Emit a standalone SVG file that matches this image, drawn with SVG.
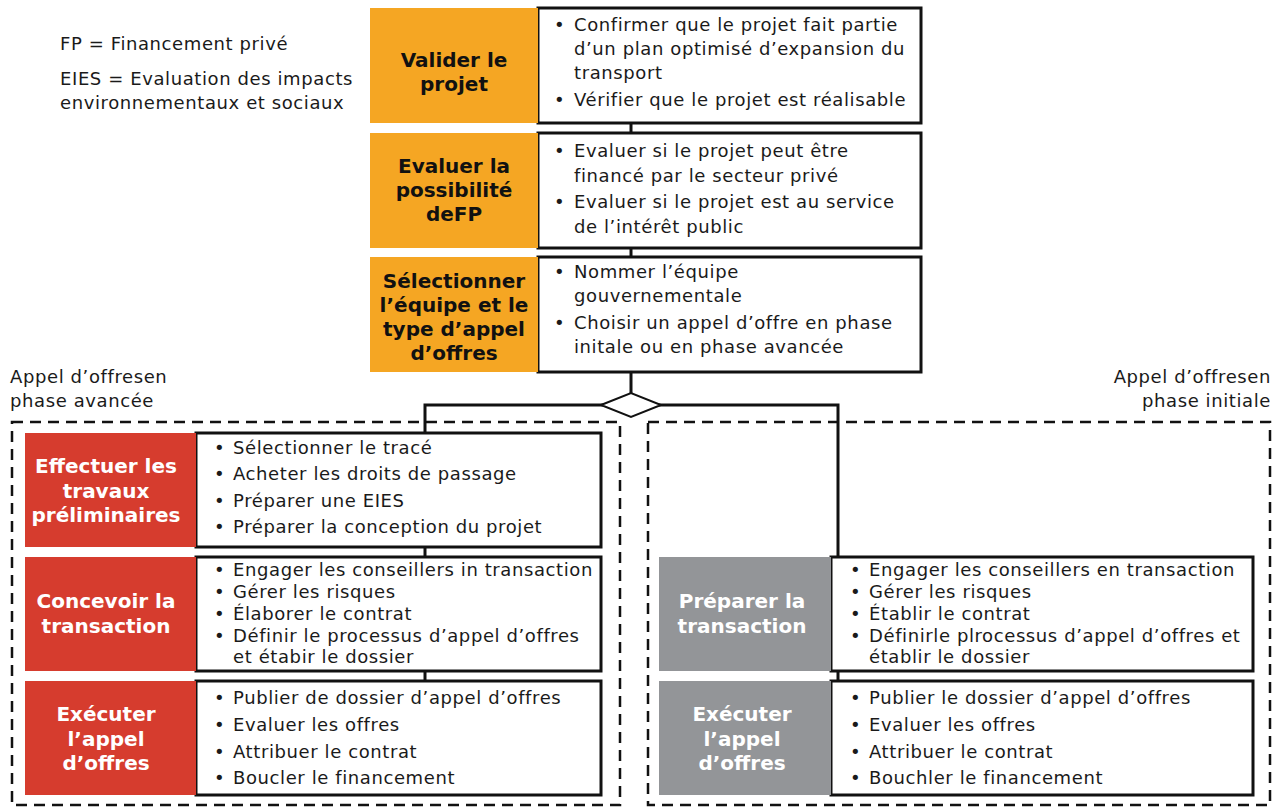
<svg xmlns="http://www.w3.org/2000/svg" width="1285" height="807" viewBox="0 0 1285 807">
<style>
.body{font-family:"DejaVu Sans","Liberation Sans",Arial,sans-serif;font-size:18px;letter-spacing:0.6px;fill:#1a1a1a}
.hd{font-family:"DejaVu Sans","Liberation Sans",Arial,sans-serif;font-size:20px;font-weight:bold;text-anchor:middle}
.hk{fill:#111}
.hw{fill:#fff}
.box{fill:#fff;stroke:#111;stroke-width:3}
.or{fill:#F5A623}
.rd{fill:#D63C2E}
.gr{fill:#939598}
.ln{fill:none;stroke:#111;stroke-width:3}
.dash{fill:none;stroke:#111;stroke-width:2.5;stroke-dasharray:11 7}
</style>
<rect width="1285" height="807" fill="#fff"/>
<g id="legend">
<text class="body" x="60" y="50">FP = Financement privé</text>
<text class="body" x="60" y="85">EIES = Evaluation des impacts</text>
<text class="body" x="60" y="109">environnementaux et sociaux</text>
</g>
<g id="labels">
<text class="body" x="10" y="383">Appel d’offresen</text>
<text class="body" x="10" y="407">phase avancée</text>
<text class="body" x="1271" y="383" text-anchor="end">Appel d’offresen</text>
<text class="body" x="1271" y="407" text-anchor="end">phase initiale</text>
</g>
<g id="containers">
<rect class="dash" x="12" y="422" width="608" height="383"/>
<rect class="dash" x="648" y="422" width="622" height="383"/>
</g>
<g id="connectors">
<line class="ln" x1="631" y1="123" x2="631" y2="133"/>
<line class="ln" x1="631" y1="248" x2="631" y2="257"/>
<line class="ln" x1="631" y1="372" x2="631" y2="393"/>
<polyline class="ln" points="425,433 425,405 838,405 838,557"/>
<polygon points="601,405 631,393 661,405 631,417" fill="#fff" stroke="#111" stroke-width="2"/>
<line class="ln" x1="425" y1="547" x2="425" y2="557"/>
<line class="ln" x1="425" y1="671" x2="425" y2="681"/>
<line class="ln" x1="838" y1="671" x2="838" y2="681"/>
</g>
<g id="n1">
<rect class="box" x="538" y="8" width="383" height="115"/>
<rect class="or" x="370" y="8" width="168" height="115"/>
<text class="hd hk" x="454" y="67">Valider le</text>
<text class="hd hk" x="454" y="91">projet</text>
<text class="body" x="554" y="31">•</text><text class="body" x="574" y="31">Confirmer que le projet fait partie</text>
<text class="body" x="574" y="55">d’un plan optimisé d’expansion du</text>
<text class="body" x="574" y="79">transport</text>
<text class="body" x="554" y="106">•</text><text class="body" x="574" y="106">Vérifier que le projet est réalisable</text>
</g>
<g id="n2">
<rect class="box" x="538" y="133" width="383" height="115"/>
<rect class="or" x="370" y="133" width="168" height="115"/>
<text class="hd hk" x="454" y="173">Evaluer la</text>
<text class="hd hk" x="454" y="197">possibilité</text>
<text class="hd hk" x="454" y="221">deFP</text>
<text class="body" x="554" y="157">•</text><text class="body" x="574" y="157">Evaluer si le projet peut être</text>
<text class="body" x="574" y="182">financé par le secteur privé</text>
<text class="body" x="554" y="208">•</text><text class="body" x="574" y="208">Evaluer si le projet est au service</text>
<text class="body" x="574" y="233">de l’intérêt public</text>
</g>
<g id="n3">
<rect class="box" x="538" y="257" width="383" height="115"/>
<rect class="or" x="370" y="257" width="168" height="115"/>
<text class="hd hk" x="454" y="288">Sélectionner</text>
<text class="hd hk" x="454" y="312">l’équipe et le</text>
<text class="hd hk" x="454" y="336">type d’appel</text>
<text class="hd hk" x="454" y="360">d’offres</text>
<text class="body" x="554" y="278">•</text><text class="body" x="574" y="278">Nommer l’équipe</text>
<text class="body" x="574" y="302">gouvernementale</text>
<text class="body" x="554" y="329">•</text><text class="body" x="574" y="329">Choisir un appel d’offre en phase</text>
<text class="body" x="574" y="353">initale ou en phase avancée</text>
</g>
<g id="a1">
<rect class="box" x="196" y="433" width="405" height="114"/>
<rect class="rd" x="25" y="433" width="171" height="114"/>
<text class="hd hw" x="106" y="473">Effectuer les</text>
<text class="hd hw" x="106" y="498">travaux</text>
<text class="hd hw" x="106" y="522">préliminaires</text>
<text class="body" x="214" y="454">•</text><text class="body" x="233" y="454">Sélectionner le tracé</text>
<text class="body" x="214" y="480">•</text><text class="body" x="233" y="480">Acheter les droits de passage</text>
<text class="body" x="214" y="507">•</text><text class="body" x="233" y="507">Préparer une EIES</text>
<text class="body" x="214" y="533">•</text><text class="body" x="233" y="533">Préparer la conception du projet</text>
</g>
<g id="a2">
<rect class="box" x="196" y="557" width="405" height="114"/>
<rect class="rd" x="25" y="557" width="171" height="114"/>
<text class="hd hw" x="106" y="608">Concevoir la</text>
<text class="hd hw" x="106" y="633">transaction</text>
<text class="body" x="214" y="576">•</text><text class="body" x="233" y="576">Engager les conseillers in transaction</text>
<text class="body" x="214" y="598">•</text><text class="body" x="233" y="598">Gérer les risques</text>
<text class="body" x="214" y="620">•</text><text class="body" x="233" y="620">Élaborer le contrat</text>
<text class="body" x="214" y="642">•</text><text class="body" x="233" y="642">Définir le processus d’appel d’offres</text>
<text class="body" x="233" y="663">et étabir le dossier</text>
</g>
<g id="a3">
<rect class="box" x="196" y="681" width="405" height="114"/>
<rect class="rd" x="25" y="681" width="171" height="114"/>
<text class="hd hw" x="106" y="721">Exécuter</text>
<text class="hd hw" x="106" y="746">l’appel</text>
<text class="hd hw" x="106" y="770">d’offres</text>
<text class="body" x="214" y="704">•</text><text class="body" x="233" y="704">Publier de dossier d’appel d’offres</text>
<text class="body" x="214" y="731">•</text><text class="body" x="233" y="731">Evaluer les offres</text>
<text class="body" x="214" y="758">•</text><text class="body" x="233" y="758">Attribuer le contrat</text>
<text class="body" x="214" y="784">•</text><text class="body" x="233" y="784">Boucler le financement</text>
</g>
<g id="b1">
<rect class="box" x="831" y="557" width="422" height="114"/>
<rect class="gr" x="659" y="557" width="172" height="114"/>
<text class="hd hw" x="742" y="608">Préparer la</text>
<text class="hd hw" x="742" y="633">transaction</text>
<text class="body" x="850" y="576">•</text><text class="body" x="869" y="576">Engager les conseillers en transaction</text>
<text class="body" x="850" y="598">•</text><text class="body" x="869" y="598">Gérer les risques</text>
<text class="body" x="850" y="620">•</text><text class="body" x="869" y="620">Établir le contrat</text>
<text class="body" x="850" y="642">•</text><text class="body" x="869" y="642">Définirle plrocessus d’appel d’offres et</text>
<text class="body" x="869" y="663">établir le dossier</text>
</g>
<g id="b2">
<rect class="box" x="831" y="681" width="422" height="114"/>
<rect class="gr" x="659" y="681" width="172" height="114"/>
<text class="hd hw" x="742" y="721">Exécuter</text>
<text class="hd hw" x="742" y="746">l’appel</text>
<text class="hd hw" x="742" y="770">d’offres</text>
<text class="body" x="850" y="704">•</text><text class="body" x="869" y="704">Publier le dossier d’appel d’offres</text>
<text class="body" x="850" y="731">•</text><text class="body" x="869" y="731">Evaluer les offres</text>
<text class="body" x="850" y="758">•</text><text class="body" x="869" y="758">Attribuer le contrat</text>
<text class="body" x="850" y="784">•</text><text class="body" x="869" y="784">Bouchler le financement</text>
</g>
</svg>
